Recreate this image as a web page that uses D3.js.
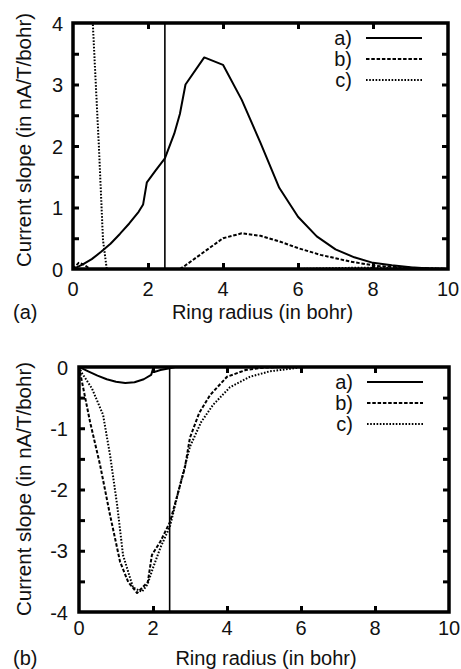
<!DOCTYPE html>
<html>
<head>
<meta charset="utf-8">
<script src="https://cdn.jsdelivr.net/npm/d3@7"></script>
<style>
  body { margin: 0; background: #fff; }
  svg { display: block; }
  text { font-family: 'Liberation Sans', Arial, sans-serif; fill: #111; }
</style>
</head>
<body>
<svg id="chart" width="461" height="669"></svg>
<script>
// panel (a)
const aX = [0, 0.25, 0.5, 0.75, 1.0, 1.25, 1.5, 1.75, 1.87, 1.97, 2.2, 2.45, 2.7, 2.85, 3.0, 3.5, 4.0, 4.5, 5.0, 5.5, 6.0, 6.5, 7.0, 7.5, 8.0, 8.5, 9.0, 9.5, 10];
const aY = [0, 0.07, 0.16, 0.28, 0.41, 0.57, 0.74, 0.93, 1.05, 1.41, 1.6, 1.8, 2.2, 2.52, 3.0, 3.44, 3.32, 2.75, 2.05, 1.32, 0.85, 0.53, 0.32, 0.19, 0.1, 0.06, 0.03, 0.01, 0];
const bX = [0, 0.15, 0.3, 0.45, 1.0, 2.0, 2.85, 3.0, 3.5, 4.0, 4.5, 5.0, 5.5, 6.0, 6.6, 7.4, 8.1, 9.0, 10];
const bY = [0, 0.1, 0.07, 0, 0, 0, 0, 0.06, 0.28, 0.5, 0.58, 0.54, 0.45, 0.34, 0.23, 0.12, 0.05, 0.02, 0];
const cX = [0.45, 0.53, 0.6, 0.69, 0.8, 0.9, 2.0, 6.0, 7.5, 8.5, 9.5, 10];
const cY = [4.6, 3.97, 3.1, 2.0, 0.47, 0, 0, 0, 0.02, 0.02, 0.01, 0];

// panel (b)
const a2X = [0, 0.25, 0.5, 0.75, 1.0, 1.25, 1.5, 1.75, 1.95, 2.0, 2.05, 2.2, 2.45, 2.6, 4, 10];
const a2Y = [0, -0.07, -0.14, -0.2, -0.24, -0.26, -0.25, -0.2, -0.13, -0.03, -0.08, -0.05, -0.02, 0, 0, 0];
const b2X = [0, 0.08, 0.3, 0.57, 0.84, 1.11, 1.33, 1.57, 1.86, 1.97, 2.2, 2.46, 2.7, 2.86, 3.0, 3.25, 3.54, 4.0, 4.5, 5.0, 5.5, 10];
const b2Y = [0, -0.24, -0.9, -1.6, -2.42, -3.18, -3.51, -3.69, -3.51, -3.07, -2.85, -2.53, -2.0, -1.65, -1.15, -0.75, -0.46, -0.16, -0.05, -0.01, 0, 0];
const c2X = [0, 0.08, 0.35, 0.65, 0.84, 1.03, 1.19, 1.46, 1.7, 1.85, 2.0, 2.2, 2.46, 2.7, 3.0, 3.3, 3.62, 4.08, 4.62, 5.16, 5.7, 6.0, 10];
const c2Y = [0, -0.1, -0.35, -0.78, -1.44, -2.25, -3.07, -3.6, -3.67, -3.55, -3.28, -2.95, -2.6, -2.0, -1.3, -0.9, -0.62, -0.33, -0.16, -0.07, -0.03, 0, 0];

const xTicks = [0, 2, 4, 6, 8, 10];
const vLine = 2.45;
const legendNames = ['a)', 'b)', 'c)'];
const dashes = [null, '3.5,1.8', '1.6,1.6'];

const svg = d3.select('#chart');

function zip(xs, ys) { return xs.map((x, i) => [x, ys[i]]); }

function panel(cfg) {
  const x = d3.scaleLinear().domain([0, 10]).range([cfg.left, cfg.right]);
  const y = d3.scaleLinear().domain(cfg.yDomain).range([cfg.bottom, cfg.top]);
  const g = svg.append('g');

  const clipId = 'clip' + cfg.id;
  svg.append('clipPath').attr('id', clipId)
    .append('rect')
    .attr('x', cfg.left).attr('y', cfg.top)
    .attr('width', cfg.right - cfg.left).attr('height', cfg.bottom - cfg.top);

  // inward ticks
  const tk = 6;
  g.append('g').attr('transform', `translate(0,${cfg.bottom})`)
    .call(d3.axisTop(x).tickValues([2, 4, 6, 8]).tickSize(tk).tickFormat(''))
    .call(s => s.select('.domain').remove());
  g.append('g').attr('transform', `translate(0,${cfg.top})`)
    .call(d3.axisBottom(x).tickValues([2, 4, 6, 8]).tickSize(tk).tickFormat(''))
    .call(s => s.select('.domain').remove());
  g.append('g').attr('transform', `translate(${cfg.left},0)`)
    .call(d3.axisRight(y).tickValues(cfg.minor).tickSize(tk).tickFormat(''))
    .call(s => s.select('.domain').remove());
  g.append('g').attr('transform', `translate(${cfg.right},0)`)
    .call(d3.axisLeft(y).tickValues(cfg.minor).tickSize(tk).tickFormat(''))
    .call(s => s.select('.domain').remove());
  g.selectAll('.tick line').attr('stroke', '#000').attr('stroke-width', 3);

  // tick labels
  g.selectAll('text.xl').data(xTicks).join('text')
    .attr('x', d => x(d)).attr('y', cfg.bottom + cfg.xLabOff)
    .attr('text-anchor', 'middle').attr('font-size', 20)
    .text(d => d);
  g.selectAll('text.yl').data(cfg.yTicks).join('text')
    .attr('x', cfg.left - cfg.yLabOff).attr('y', d => y(d) + 7.5)
    .attr('text-anchor', 'end').attr('font-size', 20)
    .text(d => d);

  // axis titles
  g.append('text')
    .attr('x', (cfg.left + cfg.right) / 2 + 2).attr('y', cfg.titleY)
    .attr('text-anchor', 'middle').attr('font-size', 20)
    .text('Ring radius (in bohr)');
  g.append('text')
    .attr('transform', `translate(31,${cfg.yTitleC}) rotate(-90)`)
    .attr('text-anchor', 'middle').attr('font-size', 20.5)
    .text('Current slope (in nA/T/bohr)');
  g.append('text')
    .attr('x', 13).attr('y', cfg.titleY)
    .attr('font-size', 20)
    .text(cfg.tag);

  // vertical marker
  g.append('line')
    .attr('x1', x(vLine)).attr('x2', x(vLine))
    .attr('y1', cfg.top).attr('y2', cfg.bottom)
    .attr('stroke', '#000').attr('stroke-width', 1.6);

  // curves
  const line = d3.line().x(d => x(d[0])).y(d => y(d[1]));
  const cg = g.append('g').attr('clip-path', `url(#${clipId})`);
  cfg.series.forEach((s, i) => {
    cg.append('path')
      .attr('d', line(s))
      .attr('fill', 'none').attr('stroke', '#000')
      .attr('stroke-width', 2)
      .attr('stroke-linejoin', 'round')
      .attr('stroke-dasharray', dashes[i]);
  });

  // legend
  legendNames.forEach((n, i) => {
    const ly = cfg.legY + i * 21;
    g.append('text')
      .attr('x', cfg.legX).attr('y', ly + 7)
      .attr('text-anchor', 'end').attr('font-size', 20)
      .text(n);
    g.append('line')
      .attr('x1', cfg.legX + 14).attr('x2', cfg.legX + 70)
      .attr('y1', ly).attr('y2', ly)
      .attr('stroke', '#000').attr('stroke-width', 2)
      .attr('stroke-dasharray', dashes[i]);
  });

  // frame
  g.append('rect')
    .attr('x', cfg.left).attr('y', cfg.top)
    .attr('width', cfg.right - cfg.left).attr('height', cfg.bottom - cfg.top)
    .attr('fill', 'none').attr('stroke', '#000').attr('stroke-width', 3.5);
}

panel({
  id: 'a', tag: '(a)',
  left: 73, right: 448, top: 23, bottom: 269,
  yDomain: [0, 4], yTicks: [0, 1, 2, 3, 4],
  minor: d3.range(0.5, 4, 0.5),
  xLabOff: 27, yLabOff: 10, titleY: 319, yTitleC: 140,
  legX: 352, legY: 38,
  series: [zip(aX, aY), zip(bX, bY), zip(cX, cY)]
});

panel({
  id: 'b', tag: '(b)',
  left: 79, right: 449, top: 367, bottom: 612,
  yDomain: [-4, 0], yTicks: [0, -1, -2, -3, -4],
  minor: d3.range(-3.5, 0, 0.5),
  xLabOff: 23, yLabOff: 11, titleY: 665, yTitleC: 489,
  legX: 353, legY: 382,
  series: [zip(a2X, a2Y), zip(b2X, b2Y), zip(c2X, c2Y)]
});
</script>
</body>
</html>
